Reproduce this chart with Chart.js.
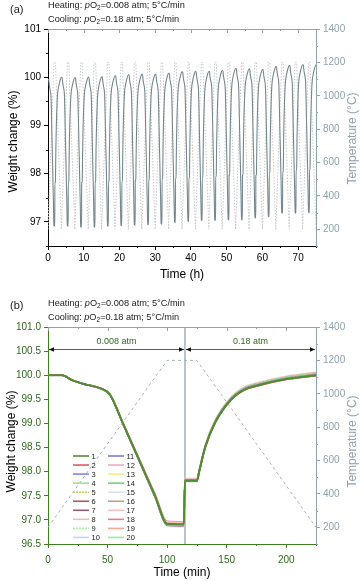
<!DOCTYPE html>
<html>
<head>
<meta charset="utf-8">
<script src="https://cdn.jsdelivr.net/npm/chart.js@4.4.1/dist/chart.umd.min.js"></script>
<style>
  html, body { margin: 0; padding: 0; background: #fff; }
  canvas { position: absolute; left: 0; }
  #chartA { top: 0; }
  #chartB { top: 290px; }
</style>
</head>
<body>
<canvas id="chartA" width="361" height="290"></canvas>
<canvas id="chartB" width="361" height="291"></canvas>
<script>
/* ---------------- DATA ---------------- */
// one heating / cooling cycle: minutes and weight (%)
const cycleTime   = [0, 12, 20, 30, 44, 52, 63, 90, 100, 114, 115, 125, 127, 132, 140, 154, 165, 178, 200, 225];
const cycleWeight = [100.0, 100.0, 99.9, 99.82, 99.73, 99.6, 99.0, 97.5, 96.93, 96.92, 97.8, 97.8, 98.0, 98.5, 99.0, 99.5, 99.7, 99.8, 99.92, 100.0];

// temperature program of one cycle
const programTime = [0, 100, 125, 225];
const programTemp = [200, 1200, 1200, 200];

// panel (a): levels of each of the 20 cycles
const cyclePeaks = [100.0, 99.99, 100.0, 100.01, 100.03, 100.05, 100.06, 100.06, 100.08, 100.11,
                    100.12, 100.12, 100.14, 100.18, 100.17, 100.16, 100.22, 100.24, 100.26, 100.26];
const cycleMins  = [96.92, 96.92, 96.9, 96.9, 96.92, 96.93, 96.94, 96.95, 96.96, 97.0,
                    97.02, 97.04, 97.04, 97.05, 97.05, 97.09, 97.12, 97.19, 97.19, 97.2];
const cycleSteps = [97.81, 97.81, 97.82, 97.82, 97.83, 97.85, 97.86, 97.86, 97.88, 97.9,
                    97.91, 97.92, 97.94, 97.97, 97.97, 97.97, 98.02, 98.03, 98.07, 98.08];
const firstStart = 99.95;
const cycleHours = 3.75;

// ticks
const aTimeTicks   = [0, 10, 20, 30, 40, 50, 60, 70];
const aTimeMinor   = [5, 15, 25, 35, 45, 55, 65, 75];
const aWeightTicks = [97, 98, 99, 100, 101];
const aWeightMinor = [96.5, 97.5, 98.5, 99.5, 100.5];
const tempTicks    = [200, 400, 600, 800, 1000, 1200, 1400];
const tempMinor    = [100, 300, 500, 700, 900, 1100, 1300];
const bTimeTicks   = [0, 50, 100, 150, 200];
const bTimeMinor   = [25, 75, 125, 175, 225];
const bWeightTicks = [96.5, 97.0, 97.5, 98.0, 98.5, 99.0, 99.5, 100.0, 100.5, 101.0];

// panel (b) annotations
const switchTime = 115;
const arrowSpans = [[0, 115], [115, 225]];
const arrowTexts = ["0.008 atm", "0.18 atm"];
const arrowLevel = 100.55;
const arrowTextLevel = 100.7;

// header lines and axis titles
const headerModes = ["Heating", "Cooling"];
const headerPO2 = ["0.008", "0.18"];
const weightTitle = "Weight change (%)";
const tempTitle = "Temperature (\u00B0C)";

const seriesColors = [
  "#4e8f33", "#e05a5a", "#8a86e2", "#98e498", "#cccc66",
  "#b05a5a", "#8d5f72", "#f3b8b8", "#a6f0a6", "#c9d0f2",
  "#7b7bd8", "#f2a9c8", "#f2f083", "#78d478", "#d6e2ec",
  "#b8a878", "#f4c2c2", "#f07890", "#f4a890", "#94ee94"
];

/* ---------------- STYLE ---------------- */
const FONT = '"Liberation Sans", Arial, sans-serif';
const GREEN = "#3f7f22";
const GREEN_TXT = "#2f6a1a";
const TEMP_C = "#8fa3ad";

/* ---------------- BUILD SERIES ---------------- */
function cycleCurve(start, min, step, end) {
  return cycleWeight.map((w, j) => {
    if (j < 10) return start + (w - 100) / (96.93 - 100) * (min - start);
    return step + (w - 97.8) / (100 - 97.8) * (end - step);
  });
}

const aWeight = [];
const aTemp = [];
cyclePeaks.forEach((peak, k) => {
  const start = k === 0 ? firstStart : cyclePeaks[k - 1];
  const curve = cycleCurve(start, cycleMins[k], cycleSteps[k], peak);
  curve.forEach((w, j) => {
    if (k > 0 && j === 0) return;
    aWeight.push({ x: k * cycleHours + cycleTime[j] / 60, y: w });
  });
  programTemp.forEach((t, j) => {
    if (k > 0 && j === 0) return;
    aTemp.push({ x: k * cycleHours + programTime[j] / 60, y: t });
  });
});

const bSeries = cyclePeaks.map((peak, i) => {
  const start = i === 0 ? 100.0 : cyclePeaks[i - 1];
  const curve = cycleCurve(100, 100 + cycleMins[i] - start, 100 + cycleSteps[i] - start, 100 + peak - start);
  return curve.map((w, j) => ({ x: cycleTime[j], y: w }));
});

/* ---------------- HELPERS ---------------- */
function setTicks(list) {
  return (scale) => { scale.ticks = list.map((v) => ({ value: v })); };
}

function drawHeader(ctx, x, y, mode, po2) {
  let cx = x;
  const put = (txt, font, dy) => {
    ctx.font = font;
    ctx.fillText(txt, cx, y + (dy || 0));
    cx += ctx.measureText(txt).width;
  };
  ctx.fillStyle = "#222";
  ctx.textBaseline = "middle";
  ctx.textAlign = "left";
  put(mode + ": ", "9.2px " + FONT);
  put("p", "italic 9.2px " + FONT);
  put("O", "9.2px " + FONT);
  put("2", "6.5px " + FONT, 3);
  put("=" + po2 + " atm; 5\u00B0C/min", "9.2px " + FONT);
}

function drawText(ctx, text, x, y, color, rotate) {
  ctx.save();
  ctx.translate(x, y);
  if (rotate) ctx.rotate(-Math.PI / 2);
  ctx.fillStyle = color;
  ctx.font = "12px " + FONT;
  ctx.textAlign = "center";
  ctx.textBaseline = "middle";
  ctx.fillText(text, 0, 0);
  ctx.restore();
}

function drawMinor(ctx, scale, values, len, color) {
  ctx.strokeStyle = color;
  ctx.lineWidth = 1;
  ctx.beginPath();
  values.forEach((v) => {
    if (v < scale.min || v > scale.max) return;
    const p = Math.round(scale.getPixelForValue(v)) + 0.5;
    if (scale.isHorizontal()) {
      ctx.moveTo(p, scale.top);
      ctx.lineTo(p, scale.top + len);
    } else if (scale.position === "left") {
      ctx.moveTo(scale.right, p);
      ctx.lineTo(scale.right - len, p);
    } else {
      ctx.moveTo(scale.left, p);
      ctx.lineTo(scale.left + len, p);
    }
  });
  ctx.stroke();
}

function drawTopBorder(ctx, chart, major, minor, color) {
  const area = chart.chartArea;
  const xs = chart.scales.x;
  ctx.strokeStyle = color;
  ctx.lineWidth = 1;
  ctx.beginPath();
  ctx.moveTo(area.left, area.top + 0.5);
  ctx.lineTo(area.right, area.top + 0.5);
  major.forEach((v) => {
    const p = Math.round(xs.getPixelForValue(v)) + 0.5;
    ctx.moveTo(p, area.top);
    ctx.lineTo(p, area.top + 4);
  });
  minor.forEach((v) => {
    const p = Math.round(xs.getPixelForValue(v)) + 0.5;
    ctx.moveTo(p, area.top);
    ctx.lineTo(p, area.top + 2);
  });
  ctx.stroke();
}

/* ---------------- PANEL (a) ---------------- */
const decorA = {
  id: "decorA",
  afterDraw(chart) {
    const ctx = chart.ctx;
    const area = chart.chartArea;
    const mid = (area.top + area.bottom) / 2;
    ctx.save();
    ctx.fillStyle = "#222";
    ctx.font = "11px " + FONT;
    ctx.textBaseline = "middle";
    ctx.fillText("(a)", 10, 10);
    drawHeader(ctx, 48, 5, headerModes[0], headerPO2[0]);
    drawHeader(ctx, 48, 19, headerModes[1], headerPO2[1]);
    drawTopBorder(ctx, chart, aTimeTicks, aTimeMinor, TEMP_C);
    drawMinor(ctx, chart.scales.x, aTimeMinor, 2, "#000");
    drawMinor(ctx, chart.scales.y, aWeightMinor, 2, "#000");
    drawMinor(ctx, chart.scales.y2, tempMinor, 2, TEMP_C);
    drawText(ctx, weightTitle, 14, mid + 4, "#000", true);
    drawText(ctx, tempTitle, 353, mid + 1, TEMP_C, true);
    drawText(ctx, "Time (h)", (area.left + area.right) / 2, 275, "#000", false);
    ctx.restore();
  }
};

new Chart(document.getElementById("chartA"), {
  type: "line",
  data: {
    datasets: [
      {
        label: "Weight",
        data: aWeight,
        yAxisID: "y",
        borderColor: "#75868d",
        borderWidth: 1.1,
        pointRadius: 0,
        cubicInterpolationMode: "monotone"
      },
      {
        label: "Temperature",
        data: aTemp,
        yAxisID: "y2",
        borderColor: "#c4c8ca",
        borderWidth: 1,
        borderDash: [1.5, 1.5],
        pointRadius: 0,
        order: 2
      }
    ]
  },
  options: {
    responsive: false,
    animation: false,
    devicePixelRatio: 1,
    parsing: false,
    layout: { padding: { top: 29, left: 0, right: 0, bottom: 0 } },
    plugins: { legend: { display: false }, tooltip: { enabled: false } },
    scales: {
      x: {
        type: "linear", min: 0, max: 75,
        afterBuildTicks: setTicks(aTimeTicks),
        afterFit: (s) => { s.height = 44; },
        ticks: { color: "#000", font: { size: 10, family: FONT }, autoSkip: false, maxRotation: 0, padding: 2 },
        grid: { drawOnChartArea: false, tickLength: 4, color: "#000" },
        border: { color: "#000" }
      },
      y: {
        position: "left", min: 96.5, max: 101,
        afterBuildTicks: setTicks(aWeightTicks),
        afterFit: (s) => { s.width = 48; },
        ticks: { color: "#000", font: { size: 10, family: FONT }, padding: 3 },
        grid: { drawOnChartArea: false, tickLength: 4, color: "#000" },
        border: { color: "#000" }
      },
      y2: {
        position: "right", min: 100, max: 1400,
        afterBuildTicks: setTicks(tempTicks),
        afterFit: (s) => { s.width = 45; },
        ticks: { color: TEMP_C, font: { size: 10, family: FONT }, padding: 3, callback: (v) => String(v) },
        grid: { drawOnChartArea: false, tickLength: 4, color: TEMP_C },
        border: { color: TEMP_C }
      }
    }
  },
  plugins: [decorA]
});

/* ---------------- PANEL (b) ---------------- */
const decorB = {
  id: "decorB",
  afterDraw(chart) {
    const ctx = chart.ctx;
    const area = chart.chartArea;
    const xs = chart.scales.x;
    const ys = chart.scales.y;
    const mid = (area.top + area.bottom) / 2;
    ctx.save();
    ctx.fillStyle = "#222";
    ctx.font = "11px " + FONT;
    ctx.textBaseline = "middle";
    ctx.fillText("(b)", 10, 16);
    drawHeader(ctx, 48, 13, headerModes[0], headerPO2[0]);
    drawHeader(ctx, 48, 27, headerModes[1], headerPO2[1]);
    drawTopBorder(ctx, chart, bTimeTicks, bTimeMinor, TEMP_C);
    drawMinor(ctx, xs, bTimeMinor, 2, GREEN);
    drawMinor(ctx, chart.scales.y2, tempMinor, 2, TEMP_C);
    drawText(ctx, weightTitle, 12, mid + 6, "#000", true);
    drawText(ctx, tempTitle, 353, mid + 6, TEMP_C, true);
    drawText(ctx, "Time (min)", (area.left + area.right) / 2, 283, "#000", false);

    // pO2 arrows
    const ay = Math.round(ys.getPixelForValue(arrowLevel)) + 0.5;
    const ty = ys.getPixelForValue(arrowTextLevel);
    arrowSpans.forEach((span, i) => {
      const x0 = xs.getPixelForValue(span[0]) + 1;
      const x1 = xs.getPixelForValue(span[1]) - 1;
      ctx.strokeStyle = "#333";
      ctx.lineWidth = 0.8;
      ctx.beginPath();
      ctx.moveTo(x0, ay);
      ctx.lineTo(x1, ay);
      ctx.stroke();
      ctx.fillStyle = "#111";
      ctx.beginPath();
      ctx.moveTo(x0, ay); ctx.lineTo(x0 + 5, ay - 2.2); ctx.lineTo(x0 + 5, ay + 2.2); ctx.closePath();
      ctx.moveTo(x1, ay); ctx.lineTo(x1 - 5, ay - 2.2); ctx.lineTo(x1 - 5, ay + 2.2); ctx.closePath();
      ctx.fill();
      ctx.fillStyle = GREEN_TXT;
      ctx.font = "9px " + FONT;
      ctx.textAlign = "center";
      ctx.fillText(arrowTexts[i], (x0 + x1) / 2, ty);
    });

    // legend in two columns
    ctx.font = "7.5px " + FONT;
    ctx.textAlign = "left";
    ctx.textBaseline = "middle";
    chart.data.datasets.forEach((ds, i) => {
      if (i >= seriesColors.length) return;
      const col = Math.floor(i / 10);
      const row = i % 10;
      const lx = area.left + 25 + col * 35;
      const ly = area.top + 129 + row * 9.05;
      ctx.strokeStyle = ds.borderColor;
      ctx.lineWidth = 1.6;
      ctx.setLineDash(ds.borderDash || []);
      ctx.beginPath();
      ctx.moveTo(lx, ly);
      ctx.lineTo(lx + 16, ly);
      ctx.stroke();
      ctx.setLineDash([]);
      ctx.fillStyle = "#222";
      ctx.fillText(ds.label, lx + 18.5, ly + 0.5);
    });
    ctx.restore();
  }
};

const bDatasets = bSeries.map((pts, i) => ({
  label: String(i + 1),
  data: pts,
  yAxisID: "y",
  borderColor: seriesColors[i],
  borderWidth: i === 0 ? 2 : 1.5,
  borderDash: (i === 4 || i === 8) ? [2, 1] : [],
  pointRadius: 0,
  cubicInterpolationMode: "monotone"
}));

bDatasets.push({
  label: "Temperature",
  data: programTime.map((t, j) => ({ x: t, y: programTemp[j] })),
  yAxisID: "y2",
  borderColor: "#a6b3ba",
  borderWidth: 1,
  borderDash: [3, 3],
  pointRadius: 0,
  order: 2
});

bDatasets.push({
  label: "switch",
  data: [{ x: switchTime, y: 96.5 }, { x: switchTime, y: 101 }],
  yAxisID: "y",
  borderColor: "#a3afb5",
  borderWidth: 1.5,
  pointRadius: 0,
  order: 3
});

new Chart(document.getElementById("chartB"), {
  type: "line",
  data: { datasets: bDatasets },
  options: {
    responsive: false,
    animation: false,
    devicePixelRatio: 1,
    parsing: false,
    layout: { padding: { top: 37, left: 0, right: 0, bottom: 0 } },
    plugins: { legend: { display: false }, tooltip: { enabled: false } },
    scales: {
      x: {
        type: "linear", min: 0, max: 225,
        afterBuildTicks: setTicks(bTimeTicks),
        afterFit: (s) => { s.height = 37; },
        ticks: { color: GREEN_TXT, font: { size: 10, family: FONT }, autoSkip: false, maxRotation: 0, padding: 6 },
        grid: { drawOnChartArea: false, tickLength: 4, color: GREEN },
        border: { color: GREEN }
      },
      y: {
        position: "left", min: 96.5, max: 101,
        afterBuildTicks: setTicks(bWeightTicks),
        afterFit: (s) => { s.width = 48; },
        ticks: { color: GREEN_TXT, font: { size: 10, family: FONT }, padding: 3, callback: (v) => Number(v).toFixed(1) },
        grid: { drawOnChartArea: false, tickLength: 4, color: GREEN },
        border: { color: GREEN }
      },
      y2: {
        position: "right", min: 100, max: 1400,
        afterBuildTicks: setTicks(tempTicks),
        afterFit: (s) => { s.width = 45; },
        ticks: { color: TEMP_C, font: { size: 10, family: FONT }, padding: 3, callback: (v) => String(v) },
        grid: { drawOnChartArea: false, tickLength: 4, color: TEMP_C },
        border: { color: TEMP_C }
      }
    }
  },
  plugins: [decorB]
});
</script>
</body>
</html>
